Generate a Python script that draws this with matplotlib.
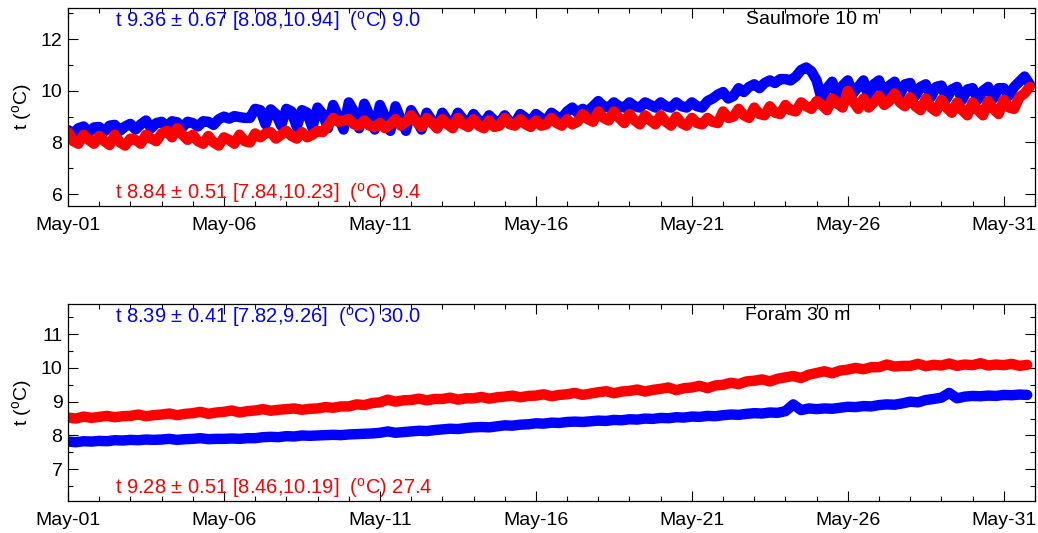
import numpy as np
import matplotlib
matplotlib.use("Agg")
import matplotlib.pyplot as plt
import matplotlib.dates as mdates

plt.rcParams['font.family'] = ['Liberation Sans', 'DejaVu Sans']
plt.rcParams['mathtext.fontset'] = 'custom'
plt.rcParams['mathtext.rm'] = 'Liberation Sans'

# Saulmore 10 m, 4-hourly samples from May-01 00:00 (one row per day)
saul_blue = [
    8.48, 8.35, 8.55, 8.62, 8.40, 8.58,
    8.60, 8.42, 8.65, 8.68, 8.45, 8.62,
    8.72, 8.50, 8.70, 8.85, 8.55, 8.75,
    8.80, 8.60, 8.82, 8.78, 8.58, 8.80,
    8.75, 8.62, 8.82, 8.80, 8.68, 8.90,
    9.00, 8.92, 9.02, 8.98, 8.95, 8.95,
    9.30, 9.25, 8.70, 9.28, 9.10, 8.65,
    9.30, 9.20, 8.60, 9.25, 9.15, 8.58,
    9.35, 9.10, 8.55, 9.45, 9.00, 8.50,
    9.55, 9.20, 8.55, 9.50, 9.05, 8.50,
    9.45, 9.00, 8.45, 9.40, 8.90, 8.45,
    9.25, 8.90, 8.50, 9.15, 8.85, 8.55,
    9.15, 8.85, 8.70, 9.15, 8.90, 8.70,
    9.10, 8.85, 8.75, 9.05, 8.85, 8.75,
    9.05, 8.80, 8.75, 9.10, 8.95, 8.80,
    9.10, 8.95, 8.85, 9.15, 9.00, 8.95,
    9.20, 9.35, 9.15, 9.30, 9.20, 9.40,
    9.60, 9.40, 9.35, 9.55, 9.40, 9.35,
    9.55, 9.40, 9.35, 9.55, 9.45, 9.35,
    9.55, 9.40, 9.35, 9.55, 9.40, 9.35,
    9.55, 9.40, 9.35, 9.60, 9.70, 9.85,
    9.95, 9.70, 9.80, 10.10, 9.95, 10.15,
    10.25, 10.10, 10.30, 10.40, 10.30, 10.45,
    10.45, 10.40, 10.55, 10.80, 10.90, 10.75,
    10.40, 9.65, 10.10, 10.35, 9.80, 10.20,
    10.40, 9.90, 10.15, 10.40, 9.75, 10.25,
    10.40, 9.85, 10.20, 10.35, 9.85, 10.25,
    10.30, 9.80, 10.15, 10.25, 9.75, 10.15,
    10.20, 9.70, 10.05, 10.15, 9.65, 10.05,
    10.10, 9.65, 10.00, 10.15, 9.70, 10.10,
    10.10, 9.80, 10.15, 10.35, 10.55, 10.25,
]
saul_red = [
    8.40, 8.05, 7.95, 8.30, 8.10, 7.95,
    8.25, 8.05, 7.90, 8.30, 8.00, 7.88,
    8.15, 8.10, 7.95, 8.30, 8.15, 8.05,
    8.35, 8.45, 8.20, 8.55, 8.30, 8.10,
    8.30, 8.05, 7.95, 8.25, 8.00, 7.88,
    8.20, 8.10, 7.95, 8.30, 8.05, 8.00,
    8.35, 8.20, 8.35, 8.40, 8.15, 8.30,
    8.45, 8.25, 8.15, 8.40, 8.20, 8.30,
    8.45, 8.40, 8.65, 8.95, 8.80, 8.85,
    8.90, 8.70, 8.65, 8.85, 8.65, 8.60,
    8.75, 8.55, 8.70, 8.90, 8.65, 8.80,
    9.05, 8.80, 8.60, 8.95, 8.75, 8.55,
    8.90, 8.70, 8.55, 8.95, 8.70, 8.60,
    8.90, 8.65, 8.55, 8.85, 8.60, 8.65,
    8.95, 8.70, 8.65, 8.90, 8.70, 8.60,
    8.85, 8.65, 8.70, 8.95, 8.75, 8.65,
    8.90, 8.70, 8.80, 9.10, 8.90, 8.80,
    9.20, 8.95, 8.85, 9.20, 8.95, 8.75,
    9.10, 8.85, 8.70, 9.05, 8.85, 8.70,
    9.05, 8.80, 8.65, 9.00, 8.75, 8.65,
    8.95, 8.75, 8.70, 8.95, 8.80, 8.75,
    9.20, 8.95, 9.00, 9.30, 9.05, 8.95,
    9.35, 9.10, 9.05, 9.40, 9.15, 9.10,
    9.45, 9.25, 9.20, 9.55, 9.40, 9.30,
    9.60, 9.45, 9.25, 9.70, 9.50, 9.35,
    10.00, 9.60, 9.30, 9.70, 9.35, 9.55,
    9.80, 9.45, 9.60, 9.90, 9.55, 9.40,
    9.75, 9.40, 9.25, 9.70, 9.35, 9.20,
    9.65, 9.35, 9.15, 9.55, 9.25, 9.05,
    9.55, 9.25, 9.05, 9.60, 9.30, 9.10,
    9.65, 9.35, 9.30, 9.75, 9.90, 10.15,
]

# Foram 30 m, 6-hourly samples from May-01 00:00 (one row per day)
foram_blue = [
    7.82, 7.80, 7.83, 7.82,
    7.84, 7.83, 7.86, 7.85,
    7.87, 7.86, 7.88, 7.87,
    7.88, 7.90, 7.87, 7.89,
    7.90, 7.92, 7.89, 7.90,
    7.90, 7.91, 7.90, 7.92,
    7.92, 7.95, 7.96, 7.95,
    7.98, 7.97, 8.00, 7.99,
    8.00, 8.01, 8.02, 8.01,
    8.03, 8.04, 8.05, 8.06,
    8.08, 8.12, 8.08, 8.10,
    8.12, 8.14, 8.13, 8.16,
    8.18, 8.20, 8.19, 8.22,
    8.24, 8.25, 8.24, 8.27,
    8.30, 8.29, 8.32, 8.33,
    8.36, 8.35, 8.38, 8.37,
    8.40, 8.41, 8.40, 8.42,
    8.44, 8.43, 8.46, 8.45,
    8.48, 8.47, 8.50, 8.49,
    8.52, 8.51, 8.54, 8.53,
    8.56, 8.55, 8.58, 8.57,
    8.60, 8.62, 8.61, 8.64,
    8.66, 8.65, 8.68, 8.67,
    8.72, 8.92, 8.75, 8.80,
    8.78, 8.80, 8.79, 8.82,
    8.85, 8.84, 8.87, 8.86,
    8.90, 8.92, 8.91, 8.95,
    9.00, 8.98, 9.05, 9.08,
    9.12, 9.26, 9.10, 9.15,
    9.17, 9.16, 9.18, 9.17,
    9.20, 9.19, 9.21, 9.20,
]
foram_red = [
    8.53, 8.50, 8.56, 8.52,
    8.55, 8.58, 8.54, 8.57,
    8.58, 8.62, 8.57, 8.60,
    8.62, 8.65, 8.60, 8.64,
    8.66, 8.70, 8.64, 8.68,
    8.70, 8.74, 8.68, 8.72,
    8.74, 8.78, 8.73, 8.76,
    8.78, 8.80, 8.76, 8.79,
    8.80, 8.84, 8.82, 8.86,
    8.86, 8.92, 8.90, 8.96,
    8.98, 9.06, 9.00, 9.04,
    9.05, 9.09, 9.04, 9.08,
    9.08, 9.12, 9.06, 9.10,
    9.10, 9.14, 9.09, 9.13,
    9.15, 9.18, 9.13, 9.17,
    9.18, 9.22, 9.16, 9.20,
    9.22, 9.26, 9.20, 9.24,
    9.28, 9.31, 9.25, 9.30,
    9.32, 9.36, 9.30, 9.35,
    9.38, 9.42, 9.34, 9.40,
    9.42, 9.47, 9.40, 9.48,
    9.50, 9.56, 9.52, 9.60,
    9.62, 9.66, 9.60, 9.68,
    9.72, 9.76, 9.70, 9.80,
    9.85, 9.90, 9.84, 9.92,
    9.95, 10.00, 9.96, 10.02,
    10.02, 10.10, 10.04, 10.06,
    10.06, 10.12, 10.05, 10.09,
    10.07, 10.13, 10.06, 10.10,
    10.08, 10.14, 10.07, 10.10,
    10.08, 10.12, 10.06, 10.09,
]

panel_titles = ["Saulmore 10 m", "Foram 30 m"]
blue_labels = [r"t 9.36 $\pm$ 0.67 [8.08,10.94]  ($^{\rm o}$C) 9.0",
               r"t 8.39 $\pm$ 0.41 [7.82,9.26]  ($^{\rm o}$C) 30.0"]
red_labels = [r"t 8.84 $\pm$ 0.51 [7.84,10.23]  ($^{\rm o}$C) 9.4",
              r"t 9.28 $\pm$ 0.51 [8.46,10.19]  ($^{\rm o}$C) 27.4"]
tick_days = ["2013-05-01", "2013-05-06", "2013-05-11", "2013-05-16",
             "2013-05-21", "2013-05-26", "2013-05-31"]

start = np.datetime64("2013-05-01T00:00")
t_saul = start + np.arange(len(saul_blue)) * np.timedelta64(4, "h")
t_foram = start + np.arange(len(foram_blue)) * np.timedelta64(6, "h")
major_ticks = mdates.date2num(np.array(tick_days, dtype="datetime64[D]"))

fig = plt.figure(figsize=(10.38, 5.33), dpi=100)
ax1 = fig.add_axes([0.0655, 0.6143, 0.9316, 0.3707])
ax2 = fig.add_axes([0.0655, 0.0606, 0.9316, 0.3690])

panels = [
    (ax1, t_saul, saul_blue, saul_red, (5.56, 13.2), [6, 8, 10, 12], 1.0, 0.77),
    (ax2, t_foram, foram_blue, foram_red, (6.07, 11.89), [7, 8, 9, 10, 11], 0.5, 0.755),
]

for k, (ax, t, b, r, ylim, yt, ym, tx) in enumerate(panels):
    ax.plot(t, b, color="#0000ff", lw=7.5, solid_joinstyle="round", solid_capstyle="round")
    ax.plot(t, r, color="#ff0000", lw=7.5, solid_joinstyle="round", solid_capstyle="round")

    ax.set_xlim(np.datetime64("2013-05-01"), np.datetime64("2013-06-01"))
    ax.set_ylim(*ylim)
    ax.set_yticks(yt)
    ax.yaxis.set_minor_locator(matplotlib.ticker.MultipleLocator(ym))
    ax.xaxis.set_major_locator(matplotlib.ticker.FixedLocator(major_ticks))
    ax.xaxis.set_minor_locator(mdates.DayLocator())
    ax.xaxis.set_major_formatter(mdates.DateFormatter("%b-%d"))

    ax.tick_params(which="both", direction="in", top=True, right=True,
                   labelsize=14, width=0.8)
    ax.tick_params(which="major", length=7)
    ax.tick_params(which="minor", length=3.5)
    ax.tick_params(axis="x", pad=8)
    ax.tick_params(axis="y", pad=4)
    for s in ax.spines.values():
        s.set_linewidth(0.9)

    ax.set_ylabel(r"t ($^{\rm o}$C)", fontsize=14, labelpad=4)

    ax.text(0.0486, 0.935, blue_labels[k], transform=ax.transAxes, color="#0000ff",
            fontsize=14.5, va="center", ha="left")
    ax.text(0.0486, 0.064, red_labels[k], transform=ax.transAxes, color="#ff0000",
            fontsize=14.5, va="center", ha="left")
    ax.text(tx, 0.94, panel_titles[k], transform=ax.transAxes,
            color="black", fontsize=14, va="center", ha="center")

fig.savefig("out.png", dpi=100)
